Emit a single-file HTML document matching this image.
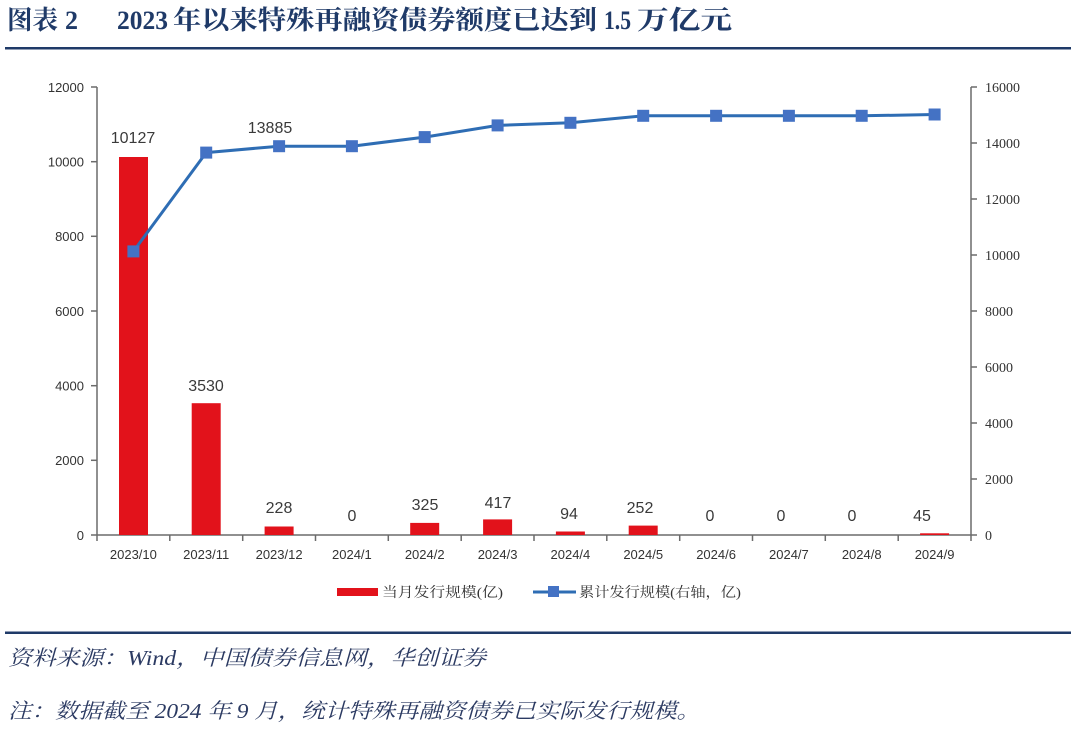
<!DOCTYPE html>
<html><head><meta charset="utf-8"><style>
html,body{margin:0;padding:0;background:#fff;}
svg{display:block;}
</style></head><body>
<svg width="1080" height="735" viewBox="0 0 1080 735" xmlns="http://www.w3.org/2000/svg">
<rect width="1080" height="735" fill="#fff"/>
<!-- Title -->
<g fill="#1F3A68" font-family="'Liberation Serif','Noto Serif CJK SC',serif" font-weight="bold" font-size="26">
<text x="7" y="29" textLength="51" lengthAdjust="spacingAndGlyphs">图表</text>
<text x="65" y="29">2</text>
<text x="117" y="29" textLength="51" lengthAdjust="spacingAndGlyphs">2023</text>
<text x="173" y="29" textLength="424" lengthAdjust="spacingAndGlyphs">年以来特殊再融资债券额度已达到</text>
<text x="604" y="29" textLength="27" lengthAdjust="spacingAndGlyphs">1.5</text>
<text x="637" y="29" textLength="95" lengthAdjust="spacingAndGlyphs">万亿元</text>
</g>
<rect x="5" y="47" width="1066" height="2.5" fill="#1F3A68"/>

<!-- Axes -->
<g stroke="#6b6b6b" stroke-width="1.5" fill="none">
<line x1="97" y1="87" x2="97" y2="535"/>
<line x1="971" y1="87" x2="971" y2="535"/>
<line x1="97" y1="535" x2="971" y2="535"/>
<line x1="91" y1="87" x2="97" y2="87"/>
<line x1="91" y1="161.7" x2="97" y2="161.7"/>
<line x1="91" y1="236.3" x2="97" y2="236.3"/>
<line x1="91" y1="311" x2="97" y2="311"/>
<line x1="91" y1="385.7" x2="97" y2="385.7"/>
<line x1="91" y1="460.3" x2="97" y2="460.3"/>
<line x1="91" y1="535" x2="97" y2="535"/>
<line x1="971" y1="87" x2="977" y2="87"/>
<line x1="971" y1="143" x2="977" y2="143"/>
<line x1="971" y1="199" x2="977" y2="199"/>
<line x1="971" y1="255" x2="977" y2="255"/>
<line x1="971" y1="311" x2="977" y2="311"/>
<line x1="971" y1="367" x2="977" y2="367"/>
<line x1="971" y1="423" x2="977" y2="423"/>
<line x1="971" y1="479" x2="977" y2="479"/>
<line x1="971" y1="535" x2="977" y2="535"/>
<line x1="97" y1="535" x2="97" y2="541"/>
<line x1="169.8" y1="535" x2="169.8" y2="541"/>
<line x1="242.7" y1="535" x2="242.7" y2="541"/>
<line x1="315.5" y1="535" x2="315.5" y2="541"/>
<line x1="388.3" y1="535" x2="388.3" y2="541"/>
<line x1="461.2" y1="535" x2="461.2" y2="541"/>
<line x1="534" y1="535" x2="534" y2="541"/>
<line x1="606.8" y1="535" x2="606.8" y2="541"/>
<line x1="679.7" y1="535" x2="679.7" y2="541"/>
<line x1="752.5" y1="535" x2="752.5" y2="541"/>
<line x1="825.3" y1="535" x2="825.3" y2="541"/>
<line x1="898.2" y1="535" x2="898.2" y2="541"/>
<line x1="971" y1="535" x2="971" y2="541"/>
</g>

<!-- Left axis labels -->
<g fill="#333" font-family="'Liberation Sans',sans-serif" font-size="13" text-anchor="end">
<text x="84" y="92">12000</text>
<text x="84" y="166.5">10000</text>
<text x="84" y="241">8000</text>
<text x="84" y="316">6000</text>
<text x="84" y="390.5">4000</text>
<text x="84" y="465">2000</text>
<text x="84" y="540">0</text>
</g>
<!-- Right axis labels -->
<g fill="#333" font-family="'Liberation Serif',serif" font-size="14">
<text x="985" y="92">16000</text>
<text x="985" y="148">14000</text>
<text x="985" y="204">12000</text>
<text x="985" y="260">10000</text>
<text x="985" y="316">8000</text>
<text x="985" y="372">6000</text>
<text x="985" y="428">4000</text>
<text x="985" y="484">2000</text>
<text x="985" y="540">0</text>
</g>
<!-- X labels -->
<g fill="#333" font-family="'Liberation Sans',sans-serif" font-size="13" text-anchor="middle">
<text x="133.4" y="559">2023/10</text>
<text x="206.2" y="559">2023/11</text>
<text x="279.1" y="559">2023/12</text>
<text x="351.9" y="559">2024/1</text>
<text x="424.7" y="559">2024/2</text>
<text x="497.6" y="559">2024/3</text>
<text x="570.4" y="559">2024/4</text>
<text x="643.2" y="559">2024/5</text>
<text x="716.1" y="559">2024/6</text>
<text x="788.9" y="559">2024/7</text>
<text x="861.7" y="559">2024/8</text>
<text x="934.6" y="559">2024/9</text>
</g>

<!-- Bars -->
<g fill="#E2121B">
<rect x="119" y="157.0" width="29" height="378.0"/>
<rect x="191.7" y="403.2" width="29" height="131.8"/>
<rect x="264.6" y="526.5" width="29" height="8.5"/>
<rect x="410.2" y="522.9" width="29" height="12.1"/>
<rect x="483.1" y="519.4" width="29" height="15.6"/>
<rect x="555.9" y="531.5" width="29" height="3.5"/>
<rect x="628.7" y="525.6" width="29" height="9.4"/>
<rect x="920.1" y="533.3" width="29" height="1.7"/>
</g>

<!-- Line -->
<polyline fill="none" stroke="#2E6DB4" stroke-width="3" stroke-linejoin="round"
points="133.4,251.4 206.2,152.6 279.1,146.2 351.9,146.2 424.7,137.1 497.6,125.4 570.4,122.8 643.2,115.8 716.1,115.8 788.9,115.8 861.7,115.8 934.6,114.5"/>
<g fill="#4472C4">
<rect x="127.4" y="245.4" width="12" height="12"/>
<rect x="200.2" y="146.6" width="12" height="12"/>
<rect x="273.1" y="140.2" width="12" height="12"/>
<rect x="345.9" y="140.2" width="12" height="12"/>
<rect x="418.7" y="131.1" width="12" height="12"/>
<rect x="491.6" y="119.4" width="12" height="12"/>
<rect x="564.4" y="116.8" width="12" height="12"/>
<rect x="637.2" y="109.8" width="12" height="12"/>
<rect x="710.1" y="109.8" width="12" height="12"/>
<rect x="782.9" y="109.8" width="12" height="12"/>
<rect x="855.7" y="109.8" width="12" height="12"/>
<rect x="928.6" y="108.5" width="12" height="12"/>
</g>

<!-- Data labels -->
<g fill="#3a3a3a" font-family="'Liberation Sans',sans-serif" font-size="16" text-anchor="middle">
<text x="133" y="143">10127</text>
<text x="206" y="391">3530</text>
<text x="270" y="133">13885</text>
<text x="279" y="513">228</text>
<text x="352" y="521">0</text>
<text x="425" y="510">325</text>
<text x="498" y="508">417</text>
<text x="569" y="519">94</text>
<text x="640" y="513">252</text>
<text x="710" y="521">0</text>
<text x="781" y="521">0</text>
<text x="852" y="521">0</text>
<text x="922" y="521">45</text>
</g>

<!-- Legend -->
<rect x="337" y="588" width="41" height="8" fill="#E2121B"/>
<text x="382" y="597" fill="#333" font-family="'Liberation Serif','Noto Serif CJK SC',serif" font-size="14" textLength="121" lengthAdjust="spacingAndGlyphs">当月发行规模(亿)</text>
<line x1="533" y1="592" x2="576" y2="592" stroke="#2E6DB4" stroke-width="3"/>
<rect x="548" y="586" width="11" height="11" fill="#4472C4"/>
<text x="579" y="597" fill="#333" font-family="'Liberation Serif','Noto Serif CJK SC',serif" font-size="14" textLength="162" lengthAdjust="spacingAndGlyphs">累计发行规模(右轴，亿)</text>

<!-- Footer -->
<rect x="5" y="631.5" width="1066" height="2.5" fill="#1F3A68"/>
<g fill="#2B3A62" font-family="'Liberation Serif','Noto Serif CJK SC',serif" font-size="21" font-style="italic">
<text x="8" y="665" textLength="478" lengthAdjust="spacingAndGlyphs">资料来源：Wind，中国债券信息网，华创证券</text>
<text x="8" y="718" textLength="692" lengthAdjust="spacingAndGlyphs">注：数据截至 2024 年 9 月，统计特殊再融资债券已实际发行规模。</text>
</g>
</svg>
</body></html>
